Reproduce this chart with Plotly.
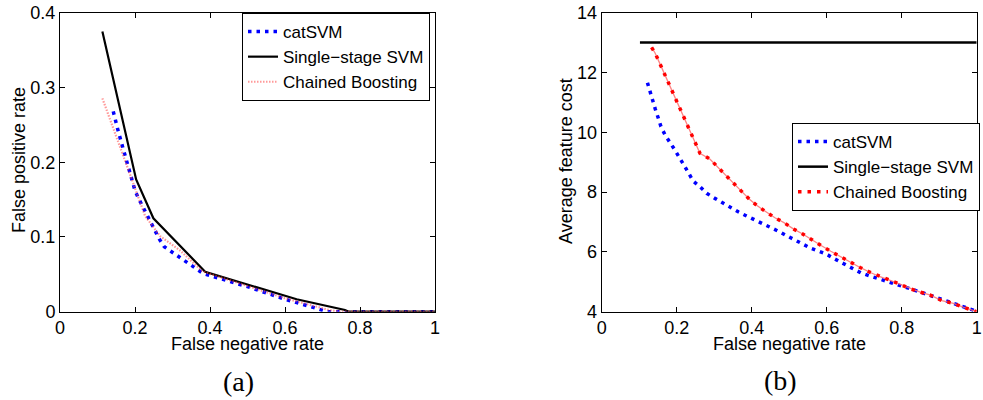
import plotly.graph_objects as go

W, H = 983, 400

# ---- (a) false positive rate vs false negative rate ----
fnr_cat_a = [0.142, 0.147, 0.154, 0.160, 0.167, 0.173, 0.180, 0.187, 0.193, 0.200, 0.209,
             0.220, 0.231, 0.242, 0.253, 0.265, 0.278, 0.298, 0.318, 0.336, 0.356, 0.382,
             0.500, 0.598, 0.684, 0.711, 1.0]
fpr_cat_a = [0.268, 0.256, 0.244, 0.233, 0.221, 0.208, 0.198, 0.185, 0.174, 0.162, 0.152,
             0.141, 0.129, 0.119, 0.108, 0.097, 0.087, 0.080, 0.073, 0.066, 0.059, 0.051,
             0.0335, 0.017, 0.0045, 0.0, 0.0]

fnr_single_a = [0.113, 0.203, 0.249, 0.387, 0.631, 0.760, 0.770, 1.0]
fpr_single_a = [0.375, 0.177, 0.125, 0.0535, 0.0166, 0.0023, 0.0, 0.0]

fnr_boost_a = [0.113, 0.130, 0.160, 0.200, 0.227, 0.267, 0.320, 0.380, 0.600, 0.720, 0.750, 1.0]
fpr_boost_a = [0.2855, 0.262, 0.221, 0.165, 0.128, 0.101, 0.082, 0.054, 0.018, 0.002, 0.0, 0.0]

# ---- (b) average feature cost vs false negative rate ----
fnr_cat_b = [0.122, 0.129, 0.136, 0.143, 0.151, 0.158, 0.169, 0.182, 0.194, 0.219, 0.244,
             0.262, 0.280, 0.302, 0.323, 0.344, 0.364, 0.385, 0.406, 0.429, 0.451, 0.473,
             0.495, 0.517, 0.538, 0.560, 0.580, 0.600, 0.622, 0.646, 0.668, 0.691, 0.714,
             0.735, 0.760, 0.782, 0.804, 0.827, 0.849, 0.875, 0.898, 0.920, 0.942, 0.964,
             0.989, 1.0]
cost_cat_b = [11.66, 11.34, 11.06, 10.77, 10.47, 10.19, 9.91, 9.67, 9.43, 8.91, 8.37,
              8.18, 7.96, 7.79, 7.63, 7.49, 7.34, 7.21, 7.09, 6.96, 6.82, 6.68,
              6.53, 6.40, 6.25, 6.11, 6.01, 5.92, 5.76, 5.59, 5.43, 5.30, 5.20,
              5.12, 5.03, 4.93, 4.84, 4.75, 4.66, 4.55, 4.45, 4.37, 4.28, 4.17,
              4.06, 4.0]

fnr_single_b = [0.102, 1.0]
cost_single_b = [13.0, 13.0]

fnr_boost_b = [0.133, 0.142, 0.154, 0.166, 0.178, 0.189, 0.202, 0.213, 0.225, 0.237, 0.249,
               0.262, 0.289, 0.308, 0.329, 0.349, 0.371, 0.394, 0.415, 0.438, 0.462, 0.486,
               0.511, 0.536, 0.560, 0.584, 0.611, 0.638, 0.664, 0.689, 0.715, 0.742, 0.771,
               0.795, 0.824, 0.851, 0.875, 0.907, 0.938, 0.964, 1.0]
cost_boost_b = [12.84, 12.66, 12.33, 11.99, 11.66, 11.32, 10.99, 10.66, 10.32, 9.99, 9.65,
                9.30, 9.10, 8.85, 8.57, 8.31, 8.05, 7.76, 7.54, 7.34, 7.14, 6.98,
                6.77, 6.60, 6.40, 6.22, 6.02, 5.83, 5.64, 5.48, 5.32, 5.17, 5.04,
                4.92, 4.76, 4.65, 4.56, 4.37, 4.28, 4.15, 4.0]

x_ticks = [0, 0.2, 0.4, 0.6, 0.8, 1]
x_tick_text = ["0", "0.2", "0.4", "0.6", "0.8", "1"]
fpr_ticks = [0, 0.1, 0.2, 0.3, 0.4]
fpr_tick_text = ["0", "0.1", "0.2", "0.3", "0.4"]
cost_ticks = [4, 6, 8, 10, 12, 14]

names = ["catSVM", "Single\u2212stage SVM", "Chained Boosting"]

SANS = "Liberation Sans, Arial, Helvetica, sans-serif"
SERIF = "Liberation Serif, Times New Roman, serif"


def px(x):
    return x / W


def py(y):
    return 1 - y / H


# plot-area boxes in pixels
A_L, A_R = 60, 435
B_L, B_R = 601.7, 976.7
TOP, BOT = 12.7, 311.7

fig = go.Figure()

# (a)
fig.add_trace(go.Scatter(x=fnr_cat_a, y=fpr_cat_a, mode="lines", name=names[0],
                         line=dict(color="#0000ff", width=3.5, dash="3.5px,5px"),
                         xaxis="x", yaxis="y", legend="legend"))
fig.add_trace(go.Scatter(x=fnr_single_a, y=fpr_single_a, mode="lines", name=names[1],
                         line=dict(color="#000000", width=2.2),
                         xaxis="x", yaxis="y", legend="legend"))
fig.add_trace(go.Scatter(x=fnr_boost_a, y=fpr_boost_a, mode="lines", name=names[2],
                         line=dict(color="rgba(255,70,70,0.55)", width=2.2, dash="1.5px,1.5px"),
                         xaxis="x", yaxis="y", legend="legend"))

# (b)
fig.add_trace(go.Scatter(x=fnr_cat_b, y=cost_cat_b, mode="lines", name=names[0],
                         line=dict(color="#0000ff", width=3.5, dash="3.5px,5px"),
                         xaxis="x2", yaxis="y2", legend="legend2"))
fig.add_trace(go.Scatter(x=fnr_single_b, y=cost_single_b, mode="lines", name=names[1],
                         line=dict(color="#000000", width=2.5),
                         xaxis="x2", yaxis="y2", legend="legend2"))
fig.add_trace(go.Scatter(x=fnr_boost_b, y=cost_boost_b, mode="lines", name=names[2],
                         line=dict(color="rgba(255,110,110,0.85)", width=1.3),
                         xaxis="x2", yaxis="y2", showlegend=False, hoverinfo="skip"))
fig.add_trace(go.Scatter(x=fnr_boost_b, y=cost_boost_b, mode="lines", name=names[2],
                         line=dict(color="#ff0000", width=3.5, dash="3.5px,6px"),
                         xaxis="x2", yaxis="y2", legend="legend2"))

axis_common = dict(showline=True, linecolor="black", linewidth=1, mirror="ticks",
                   ticks="inside", ticklen=5, tickcolor="black", tickwidth=1,
                   showgrid=False, zeroline=False, automargin=False,
                   tickfont=dict(family=SANS, size=18, color="black"))

legend_common = dict(xanchor="left", yanchor="top",
                     bgcolor="white", bordercolor="black", borderwidth=1,
                     font=dict(family=SANS, size=17, color="black"),
                     tracegroupgap=0, itemwidth=30)

fig.update_layout(
    width=W, height=H,
    margin=dict(l=0, r=0, t=0, b=0, pad=0, autoexpand=False),
    paper_bgcolor="white", plot_bgcolor="white",
    xaxis=dict(domain=[px(A_L), px(A_R)], range=[0, 1], tickvals=x_ticks,
               ticktext=x_tick_text, anchor="y", ticklabelstandoff=0, **axis_common),
    yaxis=dict(domain=[py(BOT), py(TOP)], range=[0, 0.4], tickvals=fpr_ticks,
               ticktext=fpr_tick_text, anchor="x", **axis_common),
    xaxis2=dict(domain=[px(B_L), px(B_R)], range=[0, 1], tickvals=x_ticks,
                ticktext=x_tick_text, anchor="y2", ticklabelstandoff=0, **axis_common),
    yaxis2=dict(domain=[py(BOT), py(TOP)], range=[4, 14], tickvals=cost_ticks,
                anchor="x2", **axis_common),
    legend=dict(x=px(242), y=py(13), **legend_common),
    legend2=dict(x=px(792), y=py(123), **legend_common),
    showlegend=True,
)

ann = []
title_font = dict(family=SANS, size=18, color="black")
ann.append(dict(text="False negative rate", x=px((A_L + A_R) / 2), y=py(344),
                xref="paper", yref="paper", showarrow=False, font=title_font,
                xanchor="center", yanchor="middle"))
ann.append(dict(text="False negative rate", x=px((B_L + B_R) / 2), y=py(344),
                xref="paper", yref="paper", showarrow=False, font=title_font,
                xanchor="center", yanchor="middle"))
ann.append(dict(text="False positive rate", x=px(19), y=py(160),
                xref="paper", yref="paper", showarrow=False, font=title_font,
                textangle=-90, xanchor="center", yanchor="middle"))
ann.append(dict(text="Average feature cost", x=px(566), y=py(161),
                xref="paper", yref="paper", showarrow=False, font=title_font,
                textangle=-90, xanchor="center", yanchor="middle"))
ann.append(dict(text="(a)", x=px(238), y=py(381), xref="paper", yref="paper",
                showarrow=False, font=dict(family=SERIF, size=28, color="black"),
                xanchor="center", yanchor="middle"))
ann.append(dict(text="(b)", x=px(780), y=py(380), xref="paper", yref="paper",
                showarrow=False, font=dict(family=SERIF, size=28, color="black"),
                xanchor="center", yanchor="middle"))
fig.update_layout(annotations=ann)

fig.write_html("out.html")
